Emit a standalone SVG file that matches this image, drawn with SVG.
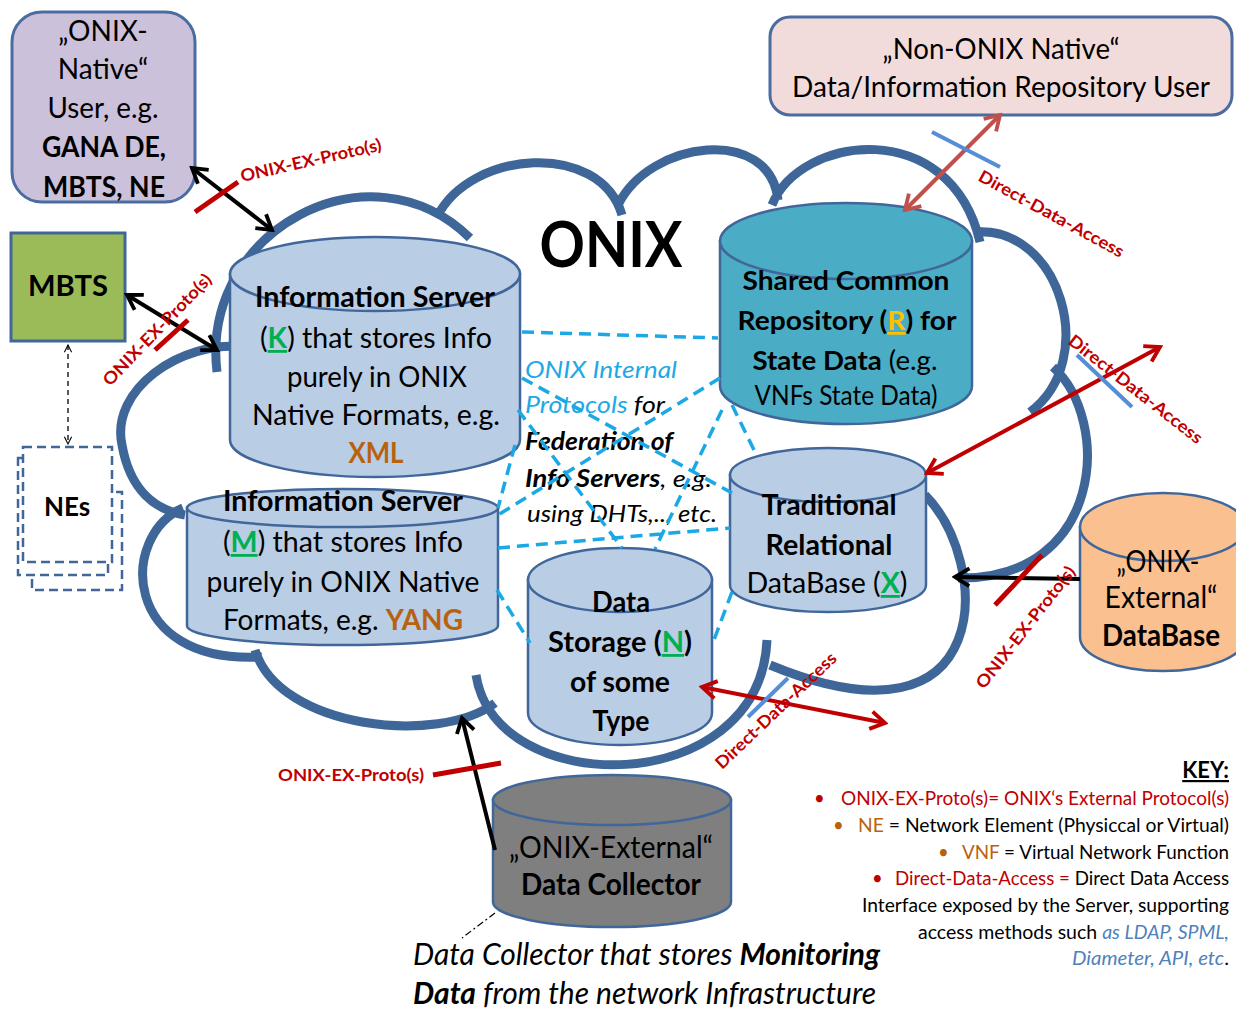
<svg xmlns="http://www.w3.org/2000/svg" width="1236" height="1010" viewBox="0 0 1236 1010">
<defs>
<style>
.cloud{fill:none;stroke:#3F6698;stroke-width:9}
.cyl{stroke:#41679A;stroke-width:2.5}
.t{font-family:Lato,"Open Sans",sans-serif;fill:#000}
.c{text-anchor:middle}
.e{text-anchor:end}
.b{font-weight:700}
.i{font-style:italic}
.k{font-size:18.5px}
.mesh{stroke:#1BA8E5;stroke-width:3.5;stroke-dasharray:12 7;fill:none}
.lbl{font-family:Lato,sans-serif;font-weight:700;fill:#C00000;font-size:17px}
.red{fill:#C00000}
.grn{fill:#00B050;text-decoration:underline}
.yel{fill:#FFC000;text-decoration:underline}
.brn{fill:#B8620F}
.blu{fill:#1EA9E6}
.kb{fill:#4F81BD}
.ab{stroke:#000;stroke-width:4;fill:none}
.ar{stroke:#C00000;stroke-width:4;fill:none}
.ap{stroke:#C0504D;stroke-width:4;fill:none}
.tr{stroke:#C00000;stroke-width:5}
.tb{stroke:#558ED5;stroke-width:4}
</style>
<marker id="hk" viewBox="0 0 20 20" refX="17" refY="10" markerWidth="22" markerHeight="22" markerUnits="userSpaceOnUse" orient="auto-start-reverse"><path d="M4,2 L17,10 L4,18" fill="none" stroke="#000" stroke-width="3.5"/></marker>
<marker id="hr" viewBox="0 0 20 20" refX="17" refY="10" markerWidth="22" markerHeight="22" markerUnits="userSpaceOnUse" orient="auto-start-reverse"><path d="M4,2 L17,10 L4,18" fill="none" stroke="#C00000" stroke-width="3.5"/></marker>
<marker id="hp" viewBox="0 0 20 20" refX="17" refY="10" markerWidth="22" markerHeight="22" markerUnits="userSpaceOnUse" orient="auto-start-reverse"><path d="M4,2 L17,10 L4,18" fill="none" stroke="#C0504D" stroke-width="3.5"/></marker>
<marker id="hs" viewBox="0 0 10 10" refX="9" refY="5" markerWidth="9" markerHeight="9" markerUnits="userSpaceOnUse" orient="auto-start-reverse"><path d="M1,1 L9,5 L1,9" fill="none" stroke="#000" stroke-width="1.2"/></marker>
</defs>
<rect width="1236" height="1010" fill="#fff"/>

<g id="cloud">
<path class="cloud" d="M217,372 C200,230 370,140 470,238 M437,217 C470,150 600,140 622,215 M618,205 C650,140 770,125 778,200 M772,205 C800,135 950,115 980,242 M975,232 C1060,225 1100,360 1030,412 M1053,367 C1112,420 1104,580 958,578 M925,495 C990,560 1000,760 770,665 M476,675 C495,800 760,800 767,640 M255,650 C280,730 440,745 495,703 M183,508 C120,535 120,665 262,657 M245,347 C180,340 110,390 122,445 C130,490 155,510 185,515"/>
</g>

<g id="n-onix-native">
<rect x="12" y="12" width="183" height="190" rx="30" fill="#CCC1DA" stroke="#4A6CA0" stroke-width="3"/>
<text class="t c" font-size="28" x="103" y="41">„ONIX-</text>
<text class="t c" font-size="28" x="103" y="79">Native“</text>
<text class="t c" font-size="28" x="103" y="118" textLength="111" lengthAdjust="spacingAndGlyphs">User, e.g.</text>
<text class="t c b" font-size="28" x="104" y="157" textLength="124" lengthAdjust="spacingAndGlyphs">GANA DE,</text>
<text class="t c b" font-size="28" x="104" y="197" textLength="122" lengthAdjust="spacingAndGlyphs">MBTS, NE</text>
</g>

<g id="n-non-onix">
<rect x="770" y="17" width="462" height="98" rx="20" fill="#F2DCDB" stroke="#4A6CA0" stroke-width="3"/>
<text class="t c" font-size="29" x="1001" y="59" textLength="237" lengthAdjust="spacingAndGlyphs">„Non-ONIX Native“</text>
<text class="t c" font-size="28.5" x="1001" y="97" textLength="418" lengthAdjust="spacingAndGlyphs">Data/Information Repository User</text>
</g>

<g id="n-mbts">
<rect x="11" y="233" width="114" height="108" fill="#9BBB59" stroke="#41679A" stroke-width="3"/>
<text class="t c b" font-size="29" x="68" y="296" textLength="80" lengthAdjust="spacingAndGlyphs">MBTS</text>
</g>

<g id="n-nes" fill="#fff" stroke="#41679A" stroke-width="2.5" stroke-dasharray="9 5">
<rect x="32" y="492" width="90" height="98"/>
<rect x="18" y="458" width="90" height="117"/>
<rect x="23" y="447" width="89" height="115"/>
<text class="t c b" font-size="26" x="67" y="516" stroke="none">NEs</text>
</g>

<g id="n-title">
<text class="t c b" font-size="64" x="611" y="267" textLength="143" lengthAdjust="spacingAndGlyphs">ONIX</text>
</g>

<g id="n-info-k">
<path class="cyl" fill="#B9CDE5" d="M230,274 V440 A145,37 0 0 0 520,440 V274 Z"/>
<ellipse class="cyl" fill="#B9CDE5" cx="375" cy="274" rx="145" ry="37"/>
<text class="t c b" font-size="28" x="375" y="307" textLength="240" lengthAdjust="spacingAndGlyphs">Information Server</text>
<text class="t c" font-size="28" x="376" y="348" textLength="232" lengthAdjust="spacingAndGlyphs">(<tspan class="grn b">K</tspan>) that stores Info</text>
<text class="t c" font-size="28" x="377" y="387" textLength="180" lengthAdjust="spacingAndGlyphs">purely in ONIX</text>
<text class="t c" font-size="28" x="376" y="425" textLength="248" lengthAdjust="spacingAndGlyphs">Native Formats, e.g.</text>
<text class="t c b brn" font-size="28" x="376" y="463" textLength="55" lengthAdjust="spacingAndGlyphs">XML</text>
</g>

<g id="n-info-m">
<path class="cyl" fill="#B9CDE5" d="M187,508 V626 A155.5,19 0 0 0 498,626 V508 Z"/>
<ellipse class="cyl" fill="#B9CDE5" cx="342.5" cy="508" rx="155.5" ry="19"/>
<text class="t c b" font-size="28" x="343" y="511" textLength="240" lengthAdjust="spacingAndGlyphs">Information Server</text>
<text class="t c" font-size="28" x="343" y="552" textLength="240" lengthAdjust="spacingAndGlyphs">(<tspan class="grn b">M</tspan>) that stores Info</text>
<text class="t c" font-size="28" x="343" y="592" textLength="273" lengthAdjust="spacingAndGlyphs">purely  in ONIX Native</text>
<text class="t c" font-size="28" x="343" y="630" textLength="240" lengthAdjust="spacingAndGlyphs">Formats, e.g. <tspan class="b brn">YANG</tspan></text>
</g>

<g id="n-shared">
<path class="cyl" fill="#4BACC6" d="M720,241 V386 A126,38 0 0 0 972,386 V241 Z"/>
<ellipse class="cyl" fill="#4BACC6" cx="846" cy="241" rx="126" ry="38"/>
<text class="t c b" font-size="27" x="846" y="290" textLength="207" lengthAdjust="spacingAndGlyphs">Shared Common</text>
<text class="t c b" font-size="27" x="847" y="330" textLength="219" lengthAdjust="spacingAndGlyphs">Repository (<tspan class="yel">R</tspan>) for</text>
<text class="t c" font-size="27" x="845" y="370" textLength="185" lengthAdjust="spacingAndGlyphs"><tspan class="b">State Data</tspan> (e.g.</text>
<text class="t c" font-size="26" x="846" y="405" textLength="183" lengthAdjust="spacingAndGlyphs">VNFs State Data)</text>
</g>

<g id="n-trad">
<path class="cyl" fill="#B9CDE5" d="M730,475 V585 A98,27 0 0 0 926,585 V475 Z"/>
<ellipse class="cyl" fill="#B9CDE5" cx="828" cy="475" rx="98" ry="27"/>
<text class="t c b" font-size="28" x="829" y="515" textLength="135" lengthAdjust="spacingAndGlyphs">Traditional</text>
<text class="t c b" font-size="28" x="829" y="555" textLength="127" lengthAdjust="spacingAndGlyphs">Relational</text>
<text class="t c" font-size="28" x="827" y="593" textLength="161" lengthAdjust="spacingAndGlyphs">DataBase (<tspan class="grn b">X</tspan>)</text>
</g>

<g id="n-storage">
<path class="cyl" fill="#B9CDE5" d="M528,580 V713 A92,32 0 0 0 712,713 V580 Z"/>
<ellipse class="cyl" fill="#B9CDE5" cx="620" cy="580" rx="92" ry="32"/>
<text class="t c b" font-size="28" x="621" y="612" textLength="58" lengthAdjust="spacingAndGlyphs">Data</text>
<text class="t c b" font-size="28" x="620" y="652" textLength="144" lengthAdjust="spacingAndGlyphs">Storage (<tspan class="grn">N</tspan>)</text>
<text class="t c b" font-size="28" x="620" y="692" textLength="100" lengthAdjust="spacingAndGlyphs">of some</text>
<text class="t c b" font-size="28" x="621" y="731" textLength="57" lengthAdjust="spacingAndGlyphs">Type</text>
</g>

<g id="n-ext-db">
<path class="cyl" fill="#FAC090" d="M1080,527 V637 A83,34 0 0 0 1246,637 V527 Z"/>
<ellipse class="cyl" fill="#FAC090" cx="1163" cy="527" rx="83" ry="34"/>
<text class="t c" font-size="30" x="1158" y="572" textLength="83" lengthAdjust="spacingAndGlyphs">„ONIX-</text>
<text class="t c" font-size="30" x="1161" y="608" textLength="113" lengthAdjust="spacingAndGlyphs">External“</text>
<text class="t c b" font-size="30" x="1161" y="646" textLength="118" lengthAdjust="spacingAndGlyphs">DataBase</text>
</g>

<g id="n-collector">
<path class="cyl" fill="#7F7F7F" d="M493,800 V902 A119,25 0 0 0 731,902 V800 Z"/>
<ellipse class="cyl" fill="#7F7F7F" cx="612" cy="800" rx="119" ry="25"/>
<text class="t c" font-size="30" x="611" y="858" textLength="204" lengthAdjust="spacingAndGlyphs">„ONIX-External“</text>
<text class="t c b" font-size="30" x="611" y="895" textLength="180" lengthAdjust="spacingAndGlyphs">Data Collector</text>
</g>

<g id="n-caption">
<line x1="495" y1="913" x2="462" y2="938" stroke="#000" stroke-width="1.2" stroke-dasharray="7 3 2 3"/>
<text class="t i" font-size="31" x="413" y="965" textLength="467" lengthAdjust="spacingAndGlyphs">Data Collector that stores <tspan class="b">Monitoring</tspan></text>
<text class="t i" font-size="31" x="413" y="1004" textLength="463" lengthAdjust="spacingAndGlyphs"><tspan class="b">Data</tspan> from the network Infrastructure</text>
</g>

<g id="n-internal-text">
<text class="t i blu" font-size="24" x="525" y="378" textLength="152" lengthAdjust="spacingAndGlyphs">ONIX Internal</text>
<text class="t i" font-size="24" x="525" y="413" textLength="140" lengthAdjust="spacingAndGlyphs"><tspan class="blu">Protocols</tspan> for</text>
<text class="t i b" font-size="24" x="525" y="450" textLength="148" lengthAdjust="spacingAndGlyphs">Federation of</text>
<text class="t i" font-size="24" x="525" y="487" textLength="187" lengthAdjust="spacingAndGlyphs"><tspan class="b">Info Servers</tspan>, e.g.</text>
<text class="t i" font-size="24" x="527" y="522" textLength="190" lengthAdjust="spacingAndGlyphs">using DHTs,.., etc.</text>
</g>

<g id="n-key">
<text class="t e b" font-size="22" x="1229" y="778" text-decoration="underline">KEY:</text>
<text class="t k red" x="814" y="805">•</text>
<text class="t e k red" x="1229" y="805" textLength="388" lengthAdjust="spacingAndGlyphs">ONIX-EX-Proto(s)= ONIX‘s External Protocol(s)</text>
<text class="t k brn" x="833" y="832">•</text>
<text class="t e k" x="1229" y="832" textLength="371" lengthAdjust="spacingAndGlyphs"><tspan class="brn">NE</tspan> = Network Element (Physiccal or Virtual)</text>
<text class="t k brn" x="938" y="859">•</text>
<text class="t e k" x="1229" y="859" textLength="267" lengthAdjust="spacingAndGlyphs"><tspan class="brn">VNF</tspan> = Virtual Network Function</text>
<text class="t k red" x="872" y="885">•</text>
<text class="t e k" x="1229" y="885" textLength="334" lengthAdjust="spacingAndGlyphs"><tspan class="red">Direct-Data-Access =</tspan> Direct Data Access</text>
<text class="t e k" x="1229" y="912" textLength="367" lengthAdjust="spacingAndGlyphs">Interface exposed by the Server, supporting</text>
<text class="t e k" x="1229" y="939" textLength="311" lengthAdjust="spacingAndGlyphs">access methods such <tspan class="i kb">as LDAP, SPML,</tspan></text>
<text class="t e k" x="1229" y="965" textLength="157" lengthAdjust="spacingAndGlyphs"><tspan class="i kb">Diameter, API, etc</tspan>.</text>
</g>

<g id="connectors">
<path class="mesh" d="M522,332 L718,338 M522,378 L732,493 M518,410 L622,548 M515,445 L498,508 M720,378 L498,515 M722,410 L655,549 M732,405 L755,452 M498,548 L730,528 M497,590 L530,643 M732,592 L712,645"/>
<line x1="68" y1="345" x2="68" y2="444" stroke="#000" stroke-width="1.3" stroke-dasharray="5 4" marker-start="url(#hs)" marker-end="url(#hs)"/>
<line class="ab" x1="192" y1="168" x2="272" y2="230" marker-start="url(#hk)" marker-end="url(#hk)"/>
<line class="ab" x1="127" y1="295" x2="217" y2="350" marker-start="url(#hk)" marker-end="url(#hk)"/>
<line class="ap" x1="1000" y1="115" x2="905" y2="210" marker-start="url(#hp)" marker-end="url(#hp)"/>
<line class="ar" x1="1160" y1="347" x2="927" y2="473" marker-start="url(#hr)" marker-end="url(#hr)"/>
<line class="ab" x1="1080" y1="579" x2="955" y2="577" marker-end="url(#hk)"/>
<line class="ar" x1="702" y1="687" x2="885" y2="723" marker-start="url(#hr)" marker-end="url(#hr)"/>
<line class="ab" x1="495" y1="850" x2="462" y2="718" marker-end="url(#hk)"/>
<line class="tr" x1="195" y1="212" x2="238" y2="182"/>
<line class="tr" x1="155" y1="350" x2="188" y2="320"/>
<line class="tb" x1="932" y1="132" x2="1000" y2="167"/>
<line class="tb" x1="1077" y1="355" x2="1132" y2="407"/>
<line class="tr" x1="995" y1="605" x2="1042" y2="555"/>
<line class="tb" x1="748" y1="717" x2="788" y2="678"/>
<line class="tr" x1="433" y1="775" x2="501" y2="763"/>
<text class="lbl" transform="translate(242,182) rotate(-12.8)" textLength="144" lengthAdjust="spacingAndGlyphs">ONIX-EX-Proto(s)</text>
<text class="lbl" transform="translate(110,387) rotate(-46)" textLength="148" lengthAdjust="spacingAndGlyphs">ONIX-EX-Proto(s)</text>
<text class="lbl" transform="translate(977,180) rotate(28.6)" textLength="163" lengthAdjust="spacingAndGlyphs">Direct-Data-Access</text>
<text class="lbl" transform="translate(1067,343) rotate(38)" textLength="165" lengthAdjust="spacingAndGlyphs">Direct-Data-Access</text>
<text class="lbl" transform="translate(984,690) rotate(-52)" textLength="150" lengthAdjust="spacingAndGlyphs">ONIX-EX-Proto(s)</text>
<text class="lbl" transform="translate(722,770) rotate(-43.6)" textLength="160" lengthAdjust="spacingAndGlyphs">Direct-Data-Access</text>
<text class="lbl" x="278" y="781" textLength="146" lengthAdjust="spacingAndGlyphs">ONIX-EX-Proto(s)</text>
</g>
</svg>
